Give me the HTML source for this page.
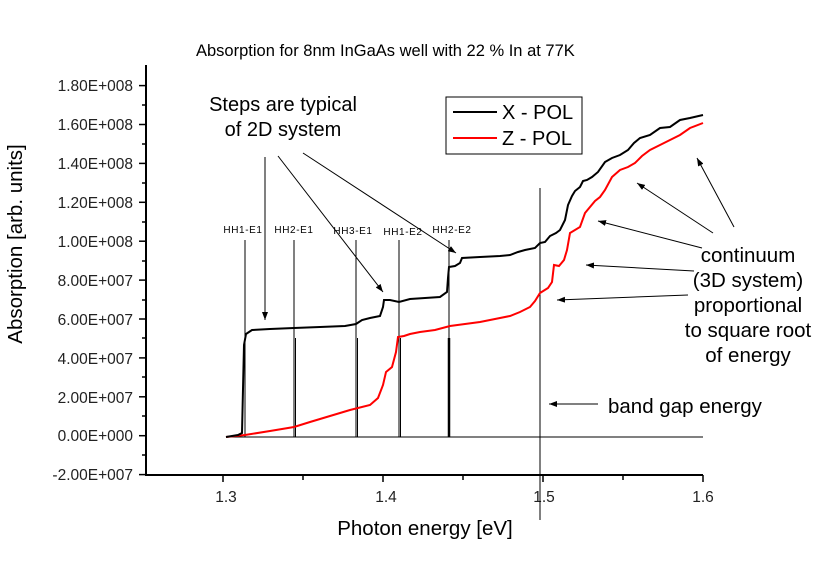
<!DOCTYPE html>
<html><head><meta charset="utf-8"><style>body{margin:0;background:#fff}svg{display:block}</style></head><body>
<svg width="816" height="570" xmlns="http://www.w3.org/2000/svg" font-family="Liberation Sans, Arial, sans-serif">
<defs><marker id="a" markerWidth="8" markerHeight="6" refX="8" refY="3" orient="auto" markerUnits="userSpaceOnUse"><path d="M0,0 L8,3 L0,6 Z" fill="#000"/></marker></defs>
<rect width="816" height="570" fill="#fff"/>
<text x="196" y="56" font-size="16.5">Absorption for 8nm InGaAs well with 22 % In at 77K</text>
<g stroke="#000" stroke-width="2" fill="none">
<line x1="146" y1="65" x2="146" y2="476"/>
<line x1="145" y1="475" x2="703" y2="475"/>
</g>
<g stroke="#000" stroke-width="1.5">
<line x1="139" y1="85.6" x2="146" y2="85.6"/><line x1="139" y1="124.5" x2="146" y2="124.5"/><line x1="139" y1="163.4" x2="146" y2="163.4"/><line x1="139" y1="202.3" x2="146" y2="202.3"/><line x1="139" y1="241.2" x2="146" y2="241.2"/><line x1="139" y1="280.1" x2="146" y2="280.1"/><line x1="139" y1="319" x2="146" y2="319"/><line x1="139" y1="357.9" x2="146" y2="357.9"/><line x1="139" y1="396.8" x2="146" y2="396.8"/><line x1="139" y1="435.7" x2="146" y2="435.7"/><line x1="139" y1="474.6" x2="146" y2="474.6"/>
<line x1="142" y1="105" x2="146" y2="105"/><line x1="142" y1="144" x2="146" y2="144"/><line x1="142" y1="183" x2="146" y2="183"/><line x1="142" y1="222" x2="146" y2="222"/><line x1="142" y1="261" x2="146" y2="261"/><line x1="142" y1="300" x2="146" y2="300"/><line x1="142" y1="338" x2="146" y2="338"/><line x1="142" y1="377" x2="146" y2="377"/><line x1="142" y1="416" x2="146" y2="416"/><line x1="142" y1="455" x2="146" y2="455"/>
<line x1="223" y1="475" x2="223" y2="482"/><line x1="383" y1="475" x2="383" y2="482"/><line x1="543" y1="475" x2="543" y2="482"/><line x1="703" y1="475" x2="703" y2="482"/>
<line x1="303" y1="475" x2="303" y2="480"/><line x1="463" y1="475" x2="463" y2="480"/><line x1="623" y1="475" x2="623" y2="480"/>
</g>
<g font-size="15.5" text-anchor="end" fill="#222">
<text x="133" y="91">1.80E+008</text><text x="133" y="130">1.60E+008</text><text x="133" y="169">1.40E+008</text><text x="133" y="208">1.20E+008</text><text x="133" y="247">1.00E+008</text><text x="133" y="286">8.00E+007</text><text x="133" y="325">6.00E+007</text><text x="133" y="364">4.00E+007</text><text x="133" y="403">2.00E+007</text><text x="133" y="441">0.00E+000</text><text x="133" y="480">-2.00E+007</text>
</g>
<g font-size="15.5" text-anchor="middle" fill="#222">
<text x="226" y="502">1.3</text><text x="386" y="502">1.4</text><text x="544" y="502">1.5</text><text x="703" y="502">1.6</text>
</g>
<text x="425" y="535" font-size="20.5" text-anchor="middle">Photon energy [eV]</text>
<text transform="translate(22,244) rotate(-90)" font-size="20.5" text-anchor="middle">Absorption [arb. units]</text>
<line x1="226" y1="437" x2="703" y2="437" stroke="#000" stroke-width="1"/>
<line x1="540" y1="188" x2="540" y2="520" stroke="#000" stroke-width="1"/>
<g stroke="#000" stroke-width="1">
<line x1="245" y1="240" x2="245" y2="437"/><line x1="294" y1="240" x2="294" y2="437"/><line x1="356" y1="240" x2="356" y2="437"/><line x1="399" y1="240" x2="399" y2="437"/><line x1="449" y1="240" x2="449" y2="437"/>
<line x1="295.5" y1="338" x2="295.5" y2="437"/><line x1="357.5" y1="338" x2="357.5" y2="437"/><line x1="400.5" y1="338" x2="400.5" y2="437"/>
</g>
<line x1="449" y1="338" x2="449" y2="437" stroke="#000" stroke-width="2.5"/>
<g font-size="10" text-anchor="middle" letter-spacing="0.6">
<text x="243" y="233">HH1-E1</text><text x="294" y="233">HH2-E1</text><text x="353" y="234">HH3-E1</text><text x="403" y="235">HH1-E2</text><text x="452" y="233">HH2-E2</text>
</g>
<polyline fill="none" stroke="#ff0000" stroke-width="2" points="226,437 245,435 270,431 294,427 310,422 330,416 350,410 370,405 378,398 383,385 386,372 392,367 396,352 398,337 404,336 410,334 420,332 435,330 450,326 465,324 480,322 495,319 510,316 520,312 530,307 535,301 540,293 548,288 552,282 554,265 559,266 564,260 567,250 570,233 580,227 585,213 590,207 595,201 600,197 605,190 612,177 620,170 628,167 635,163 642,156 650,150 660,145 670,140 680,135 690,128 703,123"/>
<polyline fill="none" stroke="#000" stroke-width="2" points="226,437 238,435 242,433 244,345 246,334 252,330 270,329 294,328 320,327 345,326 356,324 362,320 370,318 380,316 383,307 384,300 390,300 399,302 410,299 425,298 440,297 447,292 448,278 449,267 455,266 460,263 462,258 480,257 500,256 510,255 518,252 525,250 535,248 540,243 545,242 550,236 556,233 560,230 565,220 568,205 572,196 575,191 580,187 583,181 587,180 592,177 598,172 605,162 612,158 620,155 628,150 634,143 640,138 650,135 660,128 670,127 680,120 690,118 703,115"/>
<rect x="446" y="97" width="136" height="57" fill="#fff" stroke="#000" stroke-width="1"/>
<line x1="453" y1="112" x2="497" y2="112" stroke="#000" stroke-width="2"/>
<line x1="453" y1="138" x2="497" y2="138" stroke="#ff0000" stroke-width="2"/>
<text x="502" y="119" font-size="20">X - POL</text>
<text x="502" y="145" font-size="20">Z - POL</text>
<text x="283" y="111" font-size="20" text-anchor="middle">Steps are typical</text>
<text x="283" y="136" font-size="20" text-anchor="middle">of 2D system</text>
<g stroke="#000" stroke-width="1" marker-end="url(#a)">
<line x1="265" y1="157" x2="265" y2="320"/>
<line x1="278" y1="156" x2="383" y2="292"/>
<line x1="303" y1="153" x2="456" y2="253"/>
<line x1="734" y1="227" x2="697" y2="158"/>
<line x1="713" y1="233" x2="637" y2="183"/>
<line x1="702" y1="248" x2="598" y2="221"/>
<line x1="694" y1="271" x2="586" y2="265"/>
<line x1="688" y1="295" x2="557" y2="300"/>
<line x1="598" y1="404" x2="549" y2="404"/>
</g>
<g font-size="20.5" text-anchor="middle">
<text x="748" y="262">continuum</text>
<text x="748" y="287">(3D system)</text>
<text x="748" y="312">proportional</text>
<text x="748" y="337">to square root</text>
<text x="748" y="362">of energy</text>
</g>
<text x="608" y="413" font-size="20.5">band gap energy</text>
</svg>
</body></html>
